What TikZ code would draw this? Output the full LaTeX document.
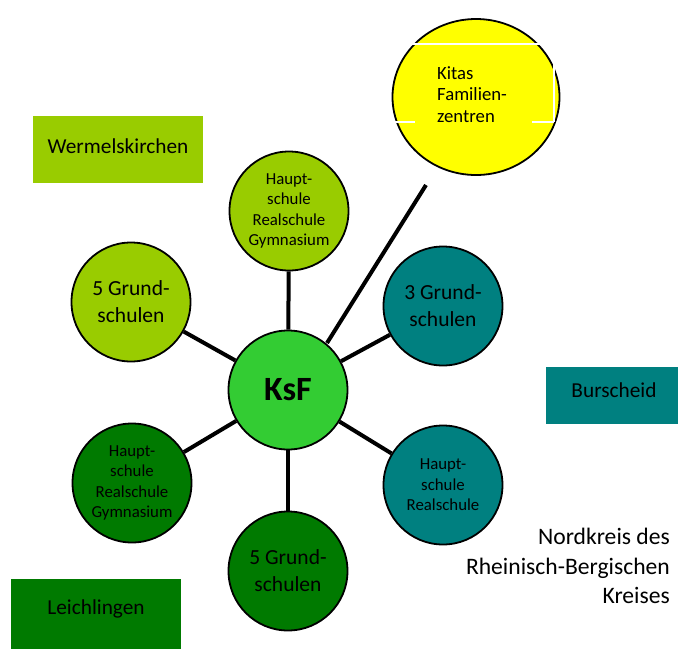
\documentclass[tikz,border=0pt]{standalone}
\usepackage{fontspec}
\setmainfont{Carlito}
\usetikzlibrary{shapes.geometric}
\definecolor{lime}{RGB}{153,204,0}
\definecolor{tealc}{RGB}{0,128,128}
\definecolor{dgreen}{RGB}{0,122,0}
\definecolor{ksfgreen}{RGB}{51,204,51}
\definecolor{yel}{RGB}{255,255,0}
\begin{document}
\begin{tikzpicture}[x=1pt,y=-1pt,
  circ/.style={circle,draw=black,line width=1.8pt,minimum size=119pt,inner sep=0pt,align=center},
  big/.style={font=\fontsize{21.5}{27}\selectfont},
  small/.style={font=\fontsize{16.8}{20.5}\selectfont},
  conn/.style={line width=4pt,black},
  region/.style={rectangle,inner sep=0pt,font=\fontsize{21.3}{24}\selectfont}]
\useasboundingbox (0,0) rectangle (678,649);
% region boxes
\fill[lime] (33,116) rectangle (203,183);
\node[region] (werm) at (118,146) {Wermelskirchen};
\fill[tealc] (546,367) rectangle (678,424);
\node[region] (bur) at (614,390) {Burscheid};
\fill[dgreen] (11,579) rectangle (181,649);
\node[region] (lei) at (96,609) {Leichlingen};
% yellow circle
\node[ellipse,draw=black,line width=1.8pt,fill=yel,minimum width=167pt,minimum height=156pt,inner sep=0pt] (kita) at (476,97) {};
\node[anchor=north west,align=left,inner sep=0pt,font=\fontsize{18.7}{21.5}\selectfont] (kitatext) at (437,66) {Kitas\\Familien-\\zentren};
\draw[white,line width=1.2pt] (407,44) -- (546,44);
\draw[white,line width=1.2pt] (554,44) -- (554,122);
\draw[white,line width=1.2pt] (395,122) -- (415,122);
\draw[white,line width=1.2pt] (532,122) -- (554,122);
% circles
\node[circ,fill=ksfgreen,font=\fontsize{34}{34}\selectfont\bfseries] (ksf) at (288,390) {KsF};
\node[circ,fill=lime,small] (top) at (289,211) {Haupt-\\schule\\Realschule\\Gymnasium};
\node[circ,fill=lime,big] (tl) at (131,302) {5 Grund-\\schulen};
\node[circ,fill=tealc,big] (tr) at (443,306) {3 Grund-\\schulen};
\node[circ,fill=dgreen,small] (bl) at (132,483) {Haupt-\\schule\\Realschule\\Gymnasium};
\node[circ,fill=tealc,small] (br) at (443,485) {Haupt-\\schule\\Realschule};
\node[circ,fill=dgreen,big] (bot) at (288,571) {5 Grund-\\schulen};
% connectors
\draw[conn] (ksf) -- (top);
\draw[conn] (ksf) -- (tl);
\draw[conn] (ksf) -- (tr);
\draw[conn] (ksf) -- (bl);
\draw[conn] (ksf) -- (br);
\draw[conn] (ksf) -- (bot);
\coordinate (l1) at (426,185);
\coordinate (l2) at (327,343);
\draw[conn] (l2) -- (l1);
% bottom right text
\node[anchor=north east,align=right,inner sep=0pt,font=\fontsize{23.6}{29.5}\selectfont] (nord) at (670,528) {Nordkreis des\\Rheinisch-Bergischen\\Kreises};
\end{tikzpicture}
\end{document}
